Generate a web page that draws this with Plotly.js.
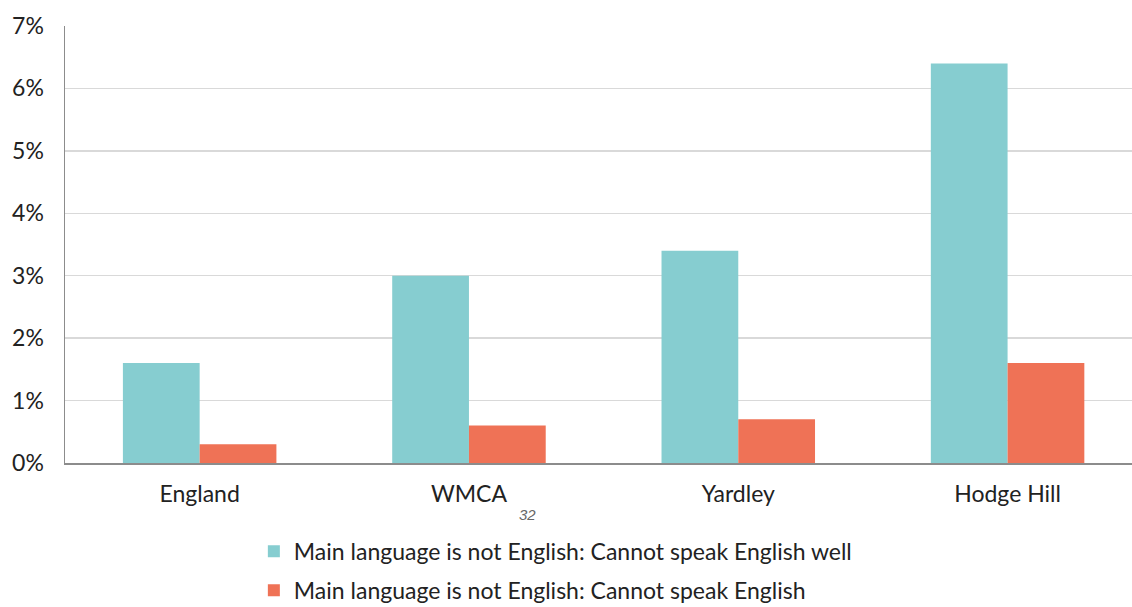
<!DOCTYPE html>
<html>
<head>
<meta charset="utf-8">
<script src="https://cdn.plot.ly/plotly-3.0.1.min.js"></script>
<style>html,body{margin:0;padding:0;background:#fff;}#chart{width:1132px;height:607px;}</style>
</head>
<body>
<div id="chart"></div>
<script>
var categories = ["England", "WMCA", "Yardley", "Hodge Hill"];
var cannotSpeakWell = [1.6, 3.0, 3.4, 6.4];
var cannotSpeak = [0.3, 0.6, 0.7, 1.6];
var seriesNames = ["Main language is not English: Cannot speak English well", "Main language is not English: Cannot speak English"];
var yTicks = [0, 1, 2, 3, 4, 5, 6, 7];
var pageNumber = "32";

var font = "Lato, 'Open Sans', sans-serif";
var traces = [
  {type: "bar", x: categories, y: cannotSpeakWell, name: seriesNames[0], marker: {color: "#86CDD0"}, legendgroup: "a"},
  {type: "bar", x: categories, y: cannotSpeak, name: seriesNames[1], marker: {color: "#EF7256"}, legendgroup: "b"}
];
var layout = {
  width: 1132, height: 607,
  margin: {l: 65, r: 0, t: 26, b: 144, autoexpand: false},
  paper_bgcolor: "#fff", plot_bgcolor: "#fff",
  barmode: "group", bargap: 0.43, bargroupgap: 0,
  font: {family: font, size: 23, color: "#222"},
  xaxis: {
    range: [-0.5, 3.462], showline: true, linecolor: "#8c8c8c", linewidth: 1.5,
    ticks: "", showgrid: false, ticklabelstandoff: 10, fixedrange: true,
    tickfont: {family: font, size: 23, color: "#222"}
  },
  yaxis: {
    range: [0, 7], tickvals: yTicks, ticktext: yTicks.map(function(v){return v + "%";}),
    showline: true, linecolor: "#8c8c8c", linewidth: 1.5,
    gridcolor: "#d9d9d9", gridwidth: 1.5, zeroline: false, ticks: "",
    ticklabelstandoff: 15, tickfont: {family: font, size: 23, color: "#222"}
  },
  showlegend: true,
  legend: {
    orientation: "v", x: 0.177, xanchor: "left", xref: "paper",
    y: -0.153, yanchor: "top", traceorder: "grouped", tracegroupgap: 6,
    font: {family: font, size: 23, color: "#222"}, itemwidth: 30
  },
  annotations: [{
    text: pageNumber, xref: "paper", yref: "paper", x: 0.433, y: -0.117,
    xanchor: "center", yanchor: "middle", showarrow: false,
    font: {family: "'Liberation Sans', Arial, sans-serif", size: 15, color: "#666", style: "italic"}
  }]
};
Plotly.newPlot("chart", traces, layout, {displayModeBar: false, staticPlot: true});
</script>
</body>
</html>
